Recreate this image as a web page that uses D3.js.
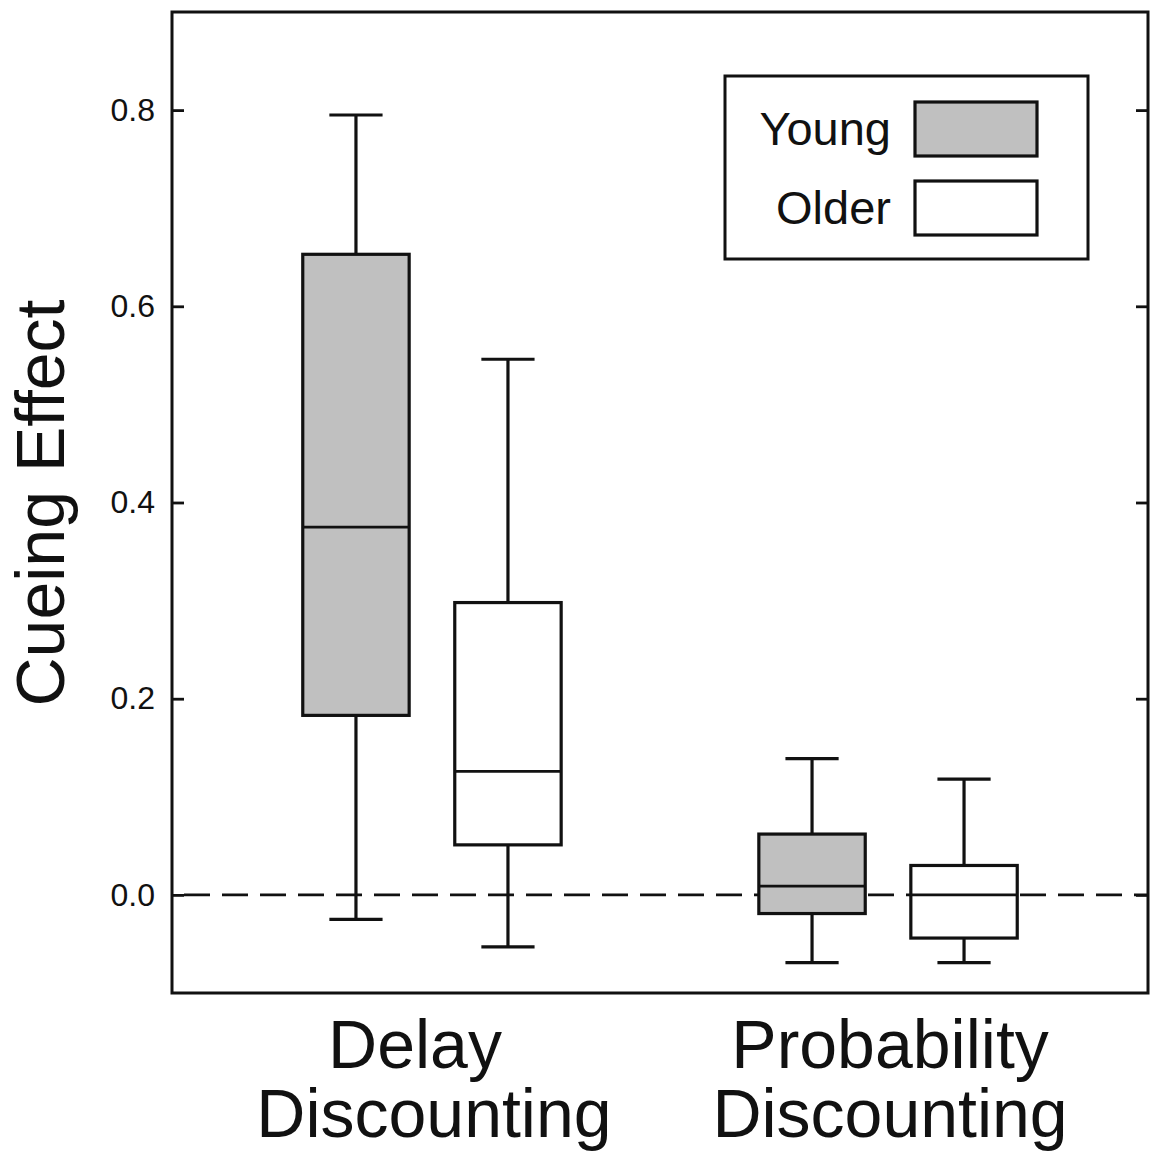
<!DOCTYPE html>
<html>
<head>
<meta charset="utf-8">
<script src="https://cdn.jsdelivr.net/npm/d3@7"></script>
<style>
  html, body { margin: 0; padding: 0; background: #fff; }
  svg { display: block; font-family: "Liberation Sans", Arial, sans-serif; }
</style>
</head>
<body>
<svg id="chart" width="1152" height="1155"></svg>
<script>
// ---- data ----
const categories = ["Delay Discounting", "Probability Discounting"];
const categoryLines = [["Delay", "Discounting"], ["Probability", "Discounting"]];
const groups = ["Young", "Older"];
const groupFill = ["#c0c0c0", "#ffffff"];
// [whiskerLow, q1, median, q3, whiskerHigh]
const youngStats = [
  [-0.025, 0.183, 0.375, 0.653, 0.795],
  [-0.069, -0.019, 0.009, 0.062, 0.139]
];
const olderStats = [
  [-0.053, 0.051, 0.126, 0.298, 0.546],
  [-0.069, -0.044, 0.000, 0.030, 0.118]
];
const yTicks = [0.0, 0.2, 0.4, 0.6, 0.8];
const yDomain = [-0.1, 0.9];
const yTitle = "Cueing Effect";

// ---- layout ----
const L = 172, R = 1148, T = 12, B = 993;
const svg = d3.select("#chart");

const x = d3.scalePoint().domain(categories).range([L, R]).padding(0.57);
const xg = d3.scaleBand().domain(groups).range([-152, 152]).padding(0);
const y = d3.scaleLinear().domain(yDomain).range([B, T]);
const boxW = xg.bandwidth() * 0.7;
const capW = boxW * 0.5;
const SW = 3.2;

// zero dashed line
svg.append("line")
  .attr("x1", L).attr("x2", R)
  .attr("y1", y(0)).attr("y2", y(0))
  .attr("stroke", "#111").attr("stroke-width", 2.8)
  .attr("stroke-dasharray", "26,12")
  .attr("stroke-dashoffset", -12);

// boxes
const data = [];
categories.forEach((c, i) => {
  data.push({ cat: c, grp: "Young", s: youngStats[i], fill: groupFill[0] });
  data.push({ cat: c, grp: "Older", s: olderStats[i], fill: groupFill[1] });
});

const g = svg.append("g");
data.forEach(d => {
  const cx = x(d.cat) + xg(d.grp) + xg.bandwidth() / 2;
  const [lo, q1, med, q3, hi] = d.s;
  const bg = g.append("g").attr("stroke", "#111").attr("stroke-width", SW).attr("fill", "none");
  bg.append("line").attr("x1", cx).attr("x2", cx).attr("y1", y(q3)).attr("y2", y(hi));
  bg.append("line").attr("x1", cx).attr("x2", cx).attr("y1", y(q1)).attr("y2", y(lo));
  bg.append("line").attr("x1", cx - capW / 2).attr("x2", cx + capW / 2).attr("y1", y(hi)).attr("y2", y(hi));
  bg.append("line").attr("x1", cx - capW / 2).attr("x2", cx + capW / 2).attr("y1", y(lo)).attr("y2", y(lo));
  bg.append("rect")
    .attr("x", cx - boxW / 2).attr("width", boxW)
    .attr("y", y(q3)).attr("height", y(q1) - y(q3))
    .attr("fill", d.fill);
  bg.append("line").attr("x1", cx - boxW / 2).attr("x2", cx + boxW / 2)
    .attr("y1", y(med)).attr("y2", y(med)).attr("stroke-width", 2.8);
});

// axes
const yAxisL = d3.axisLeft(y).tickValues(yTicks).tickFormat(d3.format(".1f"))
  .tickSizeInner(-12).tickSizeOuter(0).tickPadding(17);
const gl = svg.append("g").attr("transform", `translate(${L},0)`).call(yAxisL);
gl.attr("font-size", null).attr("font-family", null);
gl.select(".domain").remove();
gl.selectAll(".tick line").attr("stroke", "#111").attr("stroke-width", 2.8);
gl.selectAll(".tick text").attr("font-size", 32).attr("fill", "#111");

const yAxisR = d3.axisRight(y).tickValues(yTicks).tickFormat("")
  .tickSizeInner(-12).tickSizeOuter(0);
const gr = svg.append("g").attr("transform", `translate(${R},0)`).call(yAxisR);
gr.select(".domain").remove();
gr.selectAll(".tick line").attr("stroke", "#111").attr("stroke-width", 2.8);

// frame
svg.append("rect").attr("x", L).attr("y", T).attr("width", R - L).attr("height", B - T)
  .attr("fill", "none").attr("stroke", "#111").attr("stroke-width", 3);

// y title
svg.append("text")
  .attr("transform", `translate(64,503) rotate(-90)`)
  .attr("text-anchor", "middle")
  .attr("font-size", 68).attr("fill", "#111")
  .text(yTitle);

// category labels
const firstLineDx = [-17, 2];
categories.forEach((c, i) => {
  const t = svg.append("text")
    .attr("x", x(c)).attr("y", 1068)
    .attr("text-anchor", "middle")
    .attr("font-size", 68).attr("fill", "#111");
  categoryLines[i].forEach((ln, j) => {
    t.append("tspan").attr("x", x(c) + (j === 0 ? firstLineDx[i] : 2))
      .attr("dy", j === 0 ? 0 : 69).text(ln);
  });
});

// legend
const lg = svg.append("g");
lg.append("rect").attr("x", 725).attr("y", 76).attr("width", 363).attr("height", 183)
  .attr("fill", "#fff").attr("stroke", "#111").attr("stroke-width", 3);
groups.forEach((gname, i) => {
  const yy = 102 + i * 79;
  lg.append("rect").attr("x", 915).attr("y", yy).attr("width", 122).attr("height", 54)
    .attr("fill", groupFill[i]).attr("stroke", "#111").attr("stroke-width", 3.2);
  lg.append("text").attr("x", 891).attr("y", yy + 43)
    .attr("text-anchor", "end").attr("font-size", 47).attr("fill", "#111").text(gname);
});
</script>
</body>
</html>
